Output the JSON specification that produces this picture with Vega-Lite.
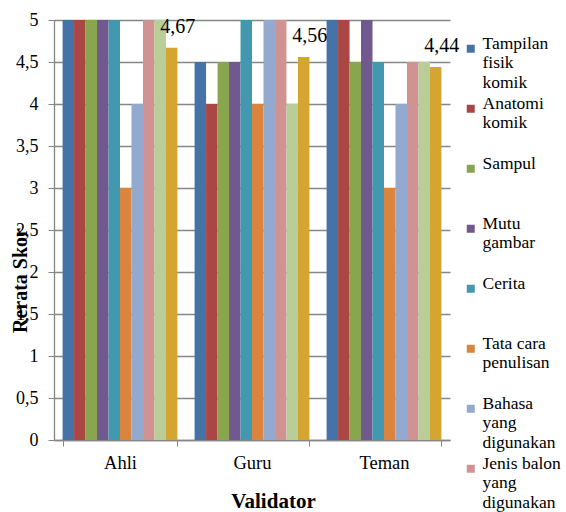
{
  "$schema": "https://vega.github.io/schema/vega-lite/v6.json",
  "autosize": {"type": "none"},
  "padding": {"left": 54, "top": 20, "right": 116, "bottom": 72},
  "width": 396,
  "height": 420,
  "background": "white",
  "config": {
    "locale": {"number": {"decimal": ",", "thousands": ".", "grouping": [3], "currency": ["", ""]}},
    "view": {"stroke": null},
    "font": "Liberation Serif"
  },
  "data": {
    "values": [
      {"Validator": "Ahli", "Aspek": "Tampilan fisik komik", "Skor": 5},
      {"Validator": "Ahli", "Aspek": "Anatomi komik", "Skor": 5},
      {"Validator": "Ahli", "Aspek": "Sampul", "Skor": 5},
      {"Validator": "Ahli", "Aspek": "Mutu gambar", "Skor": 5},
      {"Validator": "Ahli", "Aspek": "Cerita", "Skor": 5},
      {"Validator": "Ahli", "Aspek": "Tata cara penulisan", "Skor": 3},
      {"Validator": "Ahli", "Aspek": "Bahasa yang digunakan", "Skor": 4},
      {"Validator": "Ahli", "Aspek": "Jenis balon yang digunakan", "Skor": 5},
      {"Validator": "Ahli", "Aspek": "Kesesuaian isi", "Skor": 5},
      {"Validator": "Ahli", "Aspek": "Rerata", "Skor": 4.67},
      {"Validator": "Guru", "Aspek": "Tampilan fisik komik", "Skor": 4.5},
      {"Validator": "Guru", "Aspek": "Anatomi komik", "Skor": 4},
      {"Validator": "Guru", "Aspek": "Sampul", "Skor": 4.5},
      {"Validator": "Guru", "Aspek": "Mutu gambar", "Skor": 4.5},
      {"Validator": "Guru", "Aspek": "Cerita", "Skor": 5},
      {"Validator": "Guru", "Aspek": "Tata cara penulisan", "Skor": 4},
      {"Validator": "Guru", "Aspek": "Bahasa yang digunakan", "Skor": 5},
      {"Validator": "Guru", "Aspek": "Jenis balon yang digunakan", "Skor": 5},
      {"Validator": "Guru", "Aspek": "Kesesuaian isi", "Skor": 4},
      {"Validator": "Guru", "Aspek": "Rerata", "Skor": 4.56},
      {"Validator": "Teman", "Aspek": "Tampilan fisik komik", "Skor": 5},
      {"Validator": "Teman", "Aspek": "Anatomi komik", "Skor": 5},
      {"Validator": "Teman", "Aspek": "Sampul", "Skor": 4.5},
      {"Validator": "Teman", "Aspek": "Mutu gambar", "Skor": 5},
      {"Validator": "Teman", "Aspek": "Cerita", "Skor": 4.5},
      {"Validator": "Teman", "Aspek": "Tata cara penulisan", "Skor": 3},
      {"Validator": "Teman", "Aspek": "Bahasa yang digunakan", "Skor": 4},
      {"Validator": "Teman", "Aspek": "Jenis balon yang digunakan", "Skor": 4.5},
      {"Validator": "Teman", "Aspek": "Kesesuaian isi", "Skor": 4.5},
      {"Validator": "Teman", "Aspek": "Rerata", "Skor": 4.44}
    ]
  },
  "encoding": {
    "x": {
      "field": "Validator", "type": "nominal", "sort": ["Ahli", "Guru", "Teman"],
      "scale": {"paddingInner": 0.13, "paddingOuter": 0.065},
      "axis": {
        "title": "Validator", "labelAngle": 0,
        "labelFont": "Liberation Serif", "labelFontSize": 18.5, "labelColor": "black",
        "labelPadding": 7, "tickBand": "extent", "tickSize": 6, "tickColor": "#868686",
        "domainColor": "#868686", "domainWidth": 1.3,
        "titleFont": "Liberation Serif", "titleFontSize": 21, "titleFontWeight": "bold", "titleColor": "black",
        "titleX": 219, "titleY": 67, "titleBaseline": "alphabetic", "titleAlign": "center", "titlePadding": 0
      }
    },
    "xOffset": {
      "field": "Aspek", "type": "nominal",
      "sort": ["Tampilan fisik komik", "Anatomi komik", "Sampul", "Mutu gambar", "Cerita", "Tata cara penulisan", "Bahasa yang digunakan", "Jenis balon yang digunakan", "Kesesuaian isi", "Rerata"],
      "scale": {"paddingInner": 0, "paddingOuter": 0}
    },
    "y": {
      "field": "Skor", "type": "quantitative",
      "scale": {"domain": [0, 5], "nice": false},
      "axis": {
        "title": "Rerata Skor", "values": [0, 0.5, 1, 1.5, 2, 2.5, 3, 3.5, 4, 4.5, 5], "format": ".1~f",
        "grid": true, "gridColor": "#868686", "gridWidth": 1.3,
        "domainColor": "#868686", "domainWidth": 1.3, "tickColor": "#868686", "tickSize": 6,
        "labelFont": "Liberation Serif", "labelFontSize": 18, "labelColor": "black", "labelPadding": 10,
        "titleFont": "Liberation Serif", "titleFontSize": 20, "titleFontWeight": "bold", "titleColor": "black",
        "titleAngle": -90, "titleX": -28, "titleY": 260, "titleAlign": "center", "titleBaseline": "alphabetic"
      }
    }
  },
  "layer": [
    {
      "mark": {"type": "bar"},
      "encoding": {
        "color": {
          "field": "Aspek", "type": "nominal",
          "scale": {
            "domain": ["Tampilan fisik komik", "Anatomi komik", "Sampul", "Mutu gambar", "Cerita", "Tata cara penulisan", "Bahasa yang digunakan", "Jenis balon yang digunakan", "Kesesuaian isi", "Rerata"],
            "range": ["#4572A7", "#AA4643", "#89A54E", "#71588F", "#4198AF", "#DB843D", "#93A9CF", "#D19392", "#B9CD96", "#D4A530"]
          },
          "legend": {
            "title": null, "orient": "none", "legendX": 408, "legendY": 20,
            "padding": 0, "symbolType": "square", "symbolSize": 64, "symbolStrokeWidth": 0,
            "labelFont": "Liberation Serif", "labelFontSize": 17.5, "labelColor": "black",
            "labelBaseline": "alphabetic", "labelLineHeight": 20, "labelOffset": 3, "rowPadding": 2, "labelLimit": 200,
            "encode": {"labels": {"dy": {"value": 16}}},
            "labelExpr": "datum.value == 'Tampilan fisik komik' ? ['Tampilan', 'fisik', 'komik'] : datum.value == 'Anatomi komik' ? ['Anatomi', 'komik', ' '] : datum.value == 'Mutu gambar' ? ['Mutu', 'gambar', ' '] : datum.value == 'Tata cara penulisan' ? ['Tata cara', 'penulisan', ' '] : datum.value == 'Bahasa yang digunakan' ? ['Bahasa', 'yang', 'digunakan'] : datum.value == 'Jenis balon yang digunakan' ? ['Jenis balon', 'yang', 'digunakan'] : datum.value == 'Kesesuaian isi' ? ['Kesesuaian', 'isi', ' '] : [datum.value, ' ', ' ']"
          }
        }
      }
    },
    {
      "transform": [{"filter": "datum.Aspek == 'Rerata'"}],
      "mark": {"type": "text", "font": "Liberation Serif", "fontSize": 20, "color": "black", "baseline": "alphabetic", "dy": -15, "dx": 6},
      "encoding": {
        "text": {"field": "Skor", "type": "quantitative", "format": ".2f"}
      }
    }
  ]
}
